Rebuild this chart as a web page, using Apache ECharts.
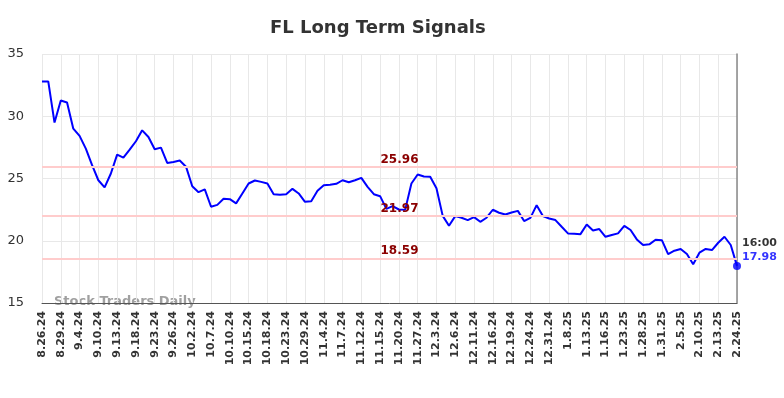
<!DOCTYPE html>
<html>
<head>
<meta charset="utf-8">
<script src="https://cdn.jsdelivr.net/npm/echarts@6/dist/echarts.min.js"></script>
<style>html,body{margin:0;padding:0;background:#fff}#c{width:784px;height:398px}</style>
</head>
<body>
<div id="c"></div>
<script>
const titleText = "FL Long Term Signals";
const dates = ["8.26.24","8.27.24","8.28.24","8.29.24","8.30.24","9.3.24","9.4.24","9.5.24","9.6.24","9.10.24","9.11.24","9.12.24","9.13.24","9.16.24","9.17.24","9.18.24","9.19.24","9.20.24","9.23.24","9.24.24","9.25.24","9.26.24","9.27.24","9.30.24","10.2.24","10.3.24","10.4.24","10.7.24","10.8.24","10.9.24","10.10.24","10.11.24","10.14.24","10.15.24","10.16.24","10.17.24","10.18.24","10.21.24","10.22.24","10.23.24","10.24.24","10.25.24","10.29.24","10.30.24","10.31.24","11.4.24","11.5.24","11.6.24","11.7.24","11.8.24","11.11.24","11.12.24","11.13.24","11.14.24","11.15.24","11.18.24","11.19.24","11.20.24","11.21.24","11.22.24","11.27.24","11.29.24","12.2.24","12.3.24","12.4.24","12.5.24","12.6.24","12.9.24","12.10.24","12.11.24","12.12.24","12.13.24","12.16.24","12.17.24","12.18.24","12.19.24","12.20.24","12.23.24","12.24.24","12.26.24","12.27.24","12.31.24","1.2.25","1.3.25","1.8.25","1.9.25","1.10.25","1.13.25","1.14.25","1.15.25","1.16.25","1.17.25","1.22.25","1.23.25","1.24.25","1.27.25","1.28.25","1.29.25","1.30.25","1.31.25","2.3.25","2.4.25","2.5.25","2.6.25","2.7.25","2.10.25","2.11.25","2.12.25","2.13.25","2.14.25","2.20.25","2.24.25"];
const prices = [32.80,32.80,29.49,31.27,31.11,29.00,28.42,27.40,26.07,24.86,24.28,25.40,26.92,26.68,27.32,27.99,28.87,28.33,27.35,27.48,26.25,26.33,26.44,25.95,24.38,23.90,24.12,22.73,22.88,23.37,23.34,23.00,23.80,24.60,24.84,24.73,24.60,23.74,23.69,23.74,24.17,23.80,23.13,23.18,24.01,24.46,24.49,24.57,24.86,24.70,24.86,25.05,24.33,23.74,23.58,22.56,22.78,22.51,22.48,24.60,25.32,25.16,25.14,24.22,22.00,21.20,21.98,21.85,21.66,21.90,21.52,21.85,22.49,22.25,22.11,22.27,22.40,21.58,21.84,22.86,21.98,21.79,21.66,21.12,20.59,20.56,20.53,21.31,20.83,20.94,20.32,20.46,20.59,21.20,20.86,20.11,19.66,19.71,20.08,20.05,18.93,19.20,19.34,18.93,18.11,19.04,19.34,19.25,19.84,20.32,19.66,17.98];
const signalLevels = [25.96, 21.97, 18.59];
const yTicks = [15, 20, 25, 30, 35];
const lastTime = "16:00";
const watermark = "Stock Traders Daily";

const lastIdx = prices.length - 1;
const chart = echarts.init(document.getElementById('c'), null, {renderer: 'canvas'});
chart.setOption({
  animation: false,
  backgroundColor: '#fff',
  title: {
    text: titleText, left: 265, top: 14,
    textStyle: {fontFamily: 'DejaVu Sans', fontSize: 18, fontWeight: 'bold', color: '#333'}
  },
  grid: {left: 42, right: 47, top: 54, bottom: 95, containLabel: false},
  xAxis: {
    type: 'category', data: dates, boundaryGap: false,
    axisLine: {show: true, lineStyle: {color: '#555', width: 1}},
    axisTick: {show: false},
    axisLabel: {interval: 2, rotate: 90, margin: 8, color: '#333', fontFamily: 'DejaVu Sans', fontSize: 11, fontWeight: 'bold'},
    splitLine: {show: true, interval: 2, lineStyle: {color: '#e8e8e8', width: 1}}
  },
  yAxis: [{
    type: 'value', min: yTicks[0], max: yTicks[yTicks.length - 1], interval: 5,
    axisLine: {show: false}, axisTick: {show: false},
    axisLabel: {color: '#333', fontFamily: 'DejaVu Sans', fontSize: 13, margin: 18},
    splitLine: {lineStyle: {color: '#e8e8e8', width: 1}}
  }, {
    type: 'value', min: yTicks[0], max: yTicks[yTicks.length - 1], interval: 5, position: 'right',
    axisLine: {show: true, lineStyle: {color: '#888', width: 1.5}}, axisTick: {show: false},
    axisLabel: {show: false}, splitLine: {show: false}
  }],
  series: [{
    type: 'line', data: prices, yAxisIndex: 0, symbol: 'none',
    lineStyle: {color: '#0000ff', width: 2},
    markLine: {
      silent: true, symbol: 'none',
      lineStyle: {color: '#ffcccc', width: 2, type: 'solid'},
      label: {position: 'middle', color: '#8b0000', fontFamily: 'DejaVu Sans', fontSize: 12, fontWeight: 'bold', offset: [10, 0], distance: 1},
      data: signalLevels.map(v => ({yAxis: v, label: {formatter: v.toFixed(2)}}))
    }
  }, {
    type: 'scatter', yAxisIndex: 0, symbolSize: 8, itemStyle: {color: '#0000ff'},
    data: prices.map((v, i) => i === lastIdx ? v : '-'),
    label: {
      show: true, position: 'right', distance: 1, offset: [0, -16],
      formatter: p => '{t|' + lastTime + '}\n{v|' + p.value.toFixed(2) + '}',
      rich: {
        t: {color: '#000', fontFamily: 'DejaVu Sans', fontSize: 11, fontWeight: 'bold', lineHeight: 14},
        v: {color: '#0000ff', fontFamily: 'DejaVu Sans', fontSize: 11, fontWeight: 'bold', lineHeight: 14}
      }
    }
  }],
  graphic: [{
    type: 'text', left: 54, top: 295,
    style: {text: watermark, fill: 'rgba(120,120,120,0.7)', font: 'bold 13px "DejaVu Sans"'}
  }]
});
</script>
</body>
</html>
